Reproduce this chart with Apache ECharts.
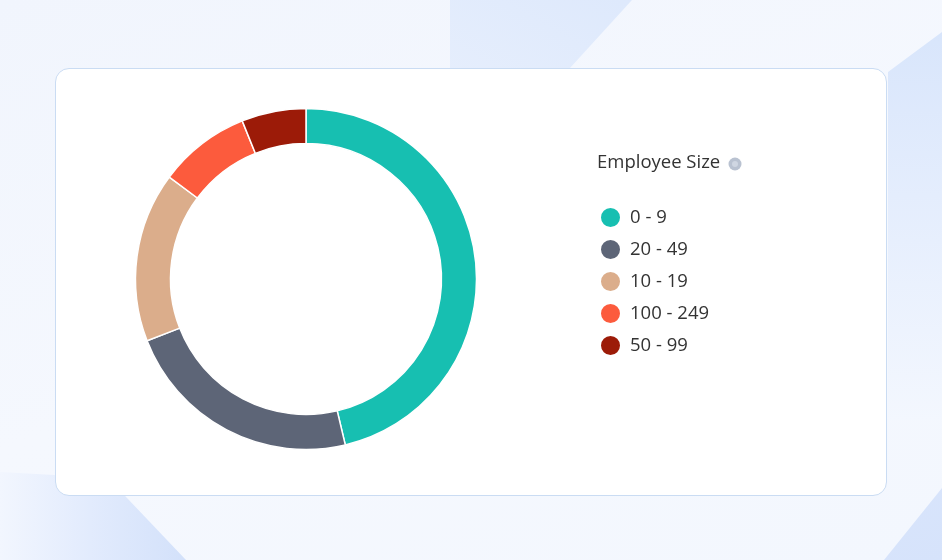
<!DOCTYPE html>
<html>
<head>
<meta charset="utf-8">
<script src="https://cdn.jsdelivr.net/npm/echarts@6/dist/echarts.min.js"></script>
<style>
html,body{margin:0;padding:0;width:942px;height:560px;overflow:hidden;background:#f3f7fe;}
.bg{position:absolute;left:0;top:0;width:942px;height:560px;}
.s0{background:linear-gradient(160deg,#f1f5fd 0%,#f5f8fe 50%,#f3f7fe 100%);}
.s1{background:linear-gradient(210deg,#d6e4fb 0%,#e9f0fd 40%,#f6f9ff 75%);clip-path:polygon(450px 0,632px 0,570px 68px,450px 68px);}
.s2{background:linear-gradient(90deg,#f2f6fe 0px,#e2ebfd 90px,#d3e1fa 186px);clip-path:polygon(0 472px,108px 478px,186px 560px,0 560px);}
.s3{background:linear-gradient(180deg,#d6e4fb 0%,#e4edfd 35%,#f3f7fe 75%);clip-path:polygon(888px 72px,942px 32px,942px 420px,888px 420px);}
.s4{background:linear-gradient(150deg,#eef3fe 0%,#d6e3fb 100%);clip-path:polygon(942px 488px,942px 560px,884px 560px);}
.card{position:absolute;left:55px;top:68px;width:830px;height:426px;background:#fff;border:1px solid #cadcf3;border-radius:14px;}
#chart{position:absolute;left:0;top:0;width:942px;height:560px;}
</style>
</head>
<body>
<div class="bg s0"></div><div class="bg s1"></div><div class="bg s2"></div><div class="bg s3"></div><div class="bg s4"></div>
<div class="card"></div>
<div id="chart"></div>
<script>
const categories = ['0 - 9', '20 - 49', '10 - 19', '100 - 249', '50 - 99'];
const values = [46.3, 22.8, 16.1, 8.7, 6.1];
const colors = ['#17bfb1', '#5d6577', '#dbad8b', '#fc5b3d', '#9c1b08'];
const legendTitle = 'Employee Size';

const chart = echarts.init(document.getElementById('chart'), null, {renderer: 'canvas'});
chart.setOption({
  backgroundColor: 'transparent',
  animation: false,
  title: {
    text: legendTitle,
    left: 597,
    top: 153,
    padding: 0,
    textStyle: {fontFamily: 'Open Sans', fontSize: 18.5, lineHeight: 20, fontWeight: 'normal', color: '#333333'}
  },
  graphic: [
    {type: 'circle', shape: {cx: 735, cy: 164, r: 6.5}, style: {fill: '#b9c2d1'}},
    {type: 'circle', shape: {cx: 735, cy: 164, r: 3}, style: {fill: '#cfd6e2'}}
  ],
  legend: {
    orient: 'vertical',
    left: 599,
    top: 206,
    padding: 0,
    icon: 'circle',
    itemWidth: 21,
    itemHeight: 21,
    itemGap: 9,
    data: categories,
    textStyle: {fontFamily: 'Open Sans', fontSize: 18.5, lineHeight: 20, color: '#333333', padding: [0, 0, 0, 4]}
  },
  series: [{
    type: 'pie',
    center: [306, 279],
    radius: [135.5, 170.5],
    startAngle: 90,
    clockwise: true,
    label: {show: false},
    labelLine: {show: false},
    itemStyle: {borderColor: '#ffffff', borderWidth: 1.5},
    data: categories.map((c, i) => ({name: c, value: values[i], itemStyle: {color: colors[i]}}))
  }]
});
</script>
</body>
</html>
